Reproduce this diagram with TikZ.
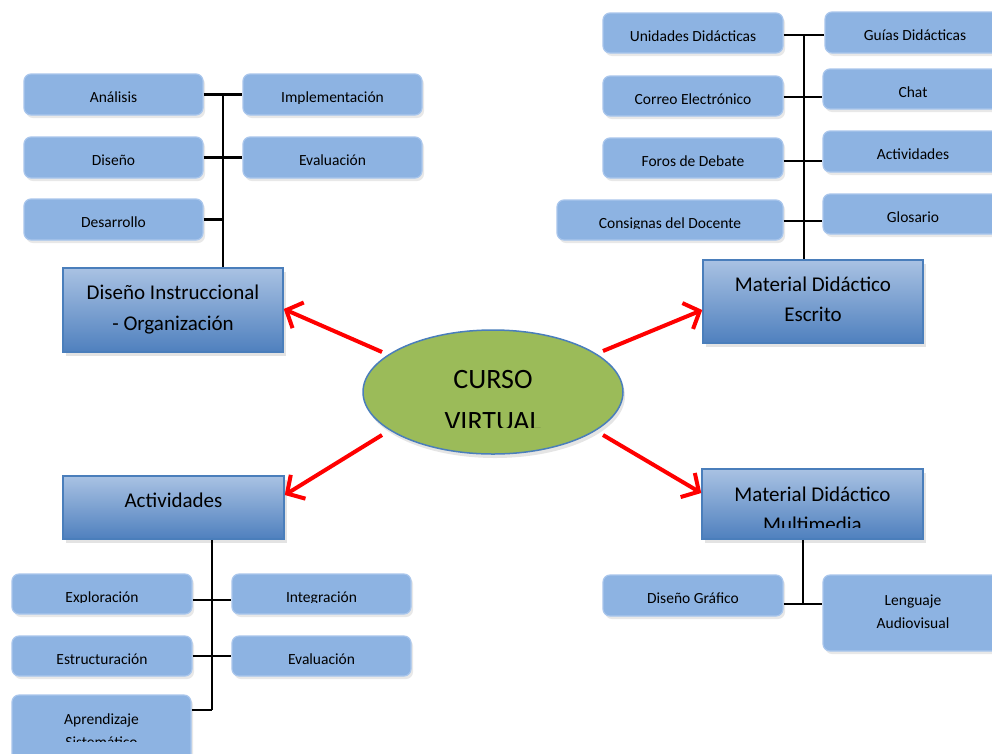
\documentclass[tikz,border=0pt]{standalone}
\usepackage{fontspec}
\setmainfont{Carlito}
\usetikzlibrary{shadows,arrows.meta,calc,shapes.geometric}
\definecolor{sfill}{HTML}{8DB3E2}
\definecolor{sline}{HTML}{A9C6EC}
\definecolor{mtop}{HTML}{A9C2E3}
\definecolor{mbot}{HTML}{4F80BE}
\definecolor{mline}{HTML}{4A7EBB}
\definecolor{egreen}{HTML}{9BBB59}
\tikzset{
 sbox/.style={draw=sline, line width=1.2pt, fill=sfill, rounded corners=7pt, inner sep=0pt,
   drop shadow={shadow xshift=2pt, shadow yshift=-3pt, opacity=0.18}},
 mbox/.style={draw=mline, line width=1.5pt, top color=mtop, bottom color=mbot, inner sep=0pt,
   drop shadow={shadow xshift=3pt, shadow yshift=-4pt, opacity=0.22}},
 stext/.style={anchor=base, inner sep=0pt, font=\fontsize{15.5}{18}\selectfont},
 mtext/.style={anchor=base, inner sep=0pt, font=\fontsize{21}{25}\selectfont},
 etext/.style={anchor=base, inner sep=0pt, font=\fontsize{28}{33}\selectfont},
 link/.style={line width=2.5pt, black},
 redarrow/.style={line width=4pt, red, -{Straight Barb[length=13pt,width=28pt]}},
}
\newcommand\smallbx[6]{%
 \node[sbox, minimum width={(#4-#2)*1pt}, minimum height={(#5-#3)*1pt}] (#1) at ({(#2+#4)/2},{(#3+#5)/2}) {};
 \node[stext] (#1t) at ({(#2+#4)/2},{(#3+#5)/2+8}) {#6};}
\newcommand\smallbxc[7]{%
 \node[sbox, minimum width={(#4-#2)*1pt}, minimum height={(#5-#3)*1pt}] (#1) at ({(#2+#4)/2},{(#3+#5)/2}) {};
 \begin{scope}\clip (#2,#3) rectangle (#4,#7);
 \node[stext] (#1t) at ({(#2+#4)/2},{(#3+#5)/2+8}) {#6};\end{scope}}
\begin{document}
\begin{tikzpicture}[x=1pt,y=-1pt]
\clip (0,0) rectangle (992,753);
\fill[white] (0,0) rectangle (992,753);

% ---------- top-left ----------
\smallbx{ana}{24}{74}{203}{115}{Análisis}
\smallbxc{imp}{243}{74}{422}{115}{Implementación}{103.5}
\smallbx{dis}{24}{137}{203}{178}{Diseño}
\smallbx{ev1}{243}{137}{422}{178}{Evaluación}
\smallbx{des}{24}{199}{203}{240}{Desarrollo}
\node[mbox, minimum width=220pt, minimum height=84pt] (di) at (173,310) {};
\node[mtext] (dit1) at (173,299) {Diseño Instruccional};
\node[mtext] (dit2) at (173,330) {- Organización};
\coordinate (trL) at ($(ana.east)!0.5!(imp.west)$);
\draw[link] (trL) -- (trL |- di.north);
\draw[link] (ana.east) -- (ana.east -| imp.west);
\draw[link] (dis.east) -- (dis.east -| ev1.west);
\draw[link] (des.east) -- (des.east -| trL);

% ---------- top-right ----------
\smallbx{ud}{603}{13}{783}{53}{Unidades Didácticas}
\smallbx{gd}{825}{12}{1005}{53}{Guías Didácticas}
\smallbx{ce}{603}{76}{783}{116}{Correo Electrónico}
\smallbx{ch}{823}{69}{1003}{109}{Chat}
\smallbx{fd}{603}{138}{783}{178}{Foros de Debate}
\smallbx{ac}{823}{131}{1003}{172}{Actividades}
\smallbxc{cd}{557}{200}{783}{240}{Consignas del Docente}{228.5}
\smallbx{gl}{823}{194}{1003}{234}{Glosario}
\node[mbox, minimum width=220pt, minimum height=83pt] (esc) at (813,301.5) {};
\node[mtext] (esct1) at (813,291) {Material Didáctico};
\node[mtext] (esct2) at (813,321) {Escrito};
\coordinate (trR) at ($(ud.east)!0.5!(ud.east -| gd.west)$);
\draw[link] ([yshift=-2pt]trR) -- (trR |- esc.north);
\draw[link] ([yshift=-2pt]ud.east) -- ([yshift=-2pt]ud.east -| gd.west);
\draw[link] ([yshift=-1pt]ce.east) -- ([yshift=-1pt]ce.east -| ch.west);
\draw[link] ([yshift=-3pt]fd.east) -- ([yshift=-3pt]fd.east -| ac.west);
\draw[link] ([yshift=-1pt]cd.east) -- ([yshift=-1pt]cd.east -| gl.west);

% ---------- centre ----------
\node[ellipse, draw=mline, line width=1.5pt, fill=egreen, minimum width=260pt, minimum height=124pt,
  inner sep=0pt, drop shadow={shadow xshift=2pt, shadow yshift=-4pt, opacity=0.2}] (cv) at (493,392) {};
\node[etext] (cvt1) at (493,388) {CURSO};
\begin{scope}\clip (380,400) rectangle (610,427);
\node[etext] (cvt2) at (493,430) {VIRTUAL};
\end{scope}

% ---------- bottom-left ----------
\node[mbox, minimum width=221pt, minimum height=63pt] (act) at (173.5,507.5) {};
\node[mtext] (actt) at (173.5,507) {Actividades};
\smallbxc{exp}{12}{574}{192}{614}{Exploración}{602.5}
\smallbxc{int}{232}{574}{411}{614}{Integración}{602.5}
\smallbx{est}{12}{636}{192}{676}{Estructuración}
\smallbx{ev2}{232}{636}{411}{676}{Evaluación}
\node[sbox, minimum width=179pt, minimum height=80pt] (apr) at (101.5,735) {};
\node[stext] (aprt1) at (101.5,724) {Aprendizaje};
\begin{scope}\clip (12,730) rectangle (191,741.5);
\node[stext] (aprt2) at (101.5,747) {Sistemático};
\end{scope}
\coordinate (trB) at ($(exp.east)!0.5!(int.west)$);
\coordinate (aprb) at (12,710);
\draw[link] (act.south -| trB) -- (trB |- aprb);
\draw[link] ([yshift=-6pt]exp.east) -- ([yshift=-6pt]exp.east -| int.west);
\draw[link] (est.east) -- (est.east -| ev2.west);
\draw[link] (apr.east |- aprb) -- (trB |- aprb);

% ---------- bottom-right ----------
\node[mbox, minimum width=221pt, minimum height=70pt] (mm) at (812.5,504) {};
\node[mtext] (mmt1) at (812.5,501) {Material Didáctico};
\begin{scope}\clip (702,505) rectangle (923,527);
\node[mtext] (mmt2) at (812.5,531) {Multimedia};
\end{scope}
\smallbx{dg}{603}{575}{783}{616}{Diseño Gráfico}
\node[sbox, minimum width=180pt, minimum height=76pt] (lg) at (913,613) {};
\node[stext] (lgt1) at (913,605) {Lenguaje};
\node[stext] (lgt2) at (913,628) {Audiovisual};
\coordinate (brR) at ($([yshift=-8.5pt]dg.east)!0.5!([yshift=-8.5pt]dg.east -| lg.west)$);
\draw[link] (mm.south -| brR) -- (brR);
\draw[link] ([yshift=-8.5pt]dg.east) -- ([yshift=-8.5pt]dg.east -| lg.west);

% ---------- red arrows ----------
\coordinate (s1) at (382,352);
\coordinate (s2) at (603,351);
\coordinate (s3) at (382,435);
\coordinate (s4) at (603,435);
\draw[redarrow] (s1) -- ([yshift=1pt]di.east);
\draw[redarrow] (s2) -- ([yshift=-8.5pt]esc.west);
\draw[redarrow] (s3) -- ([yshift=12.5pt]act.east);
\draw[redarrow] (s4) -- ([yshift=11pt]mm.west);
\end{tikzpicture}
\end{document}
